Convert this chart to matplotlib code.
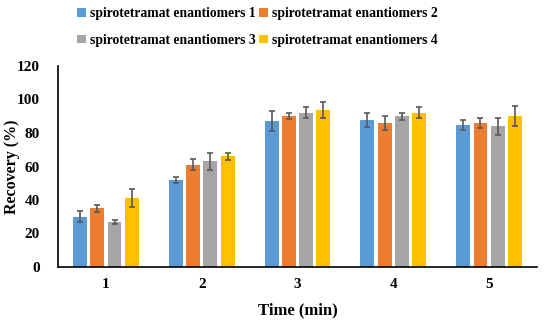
import numpy as np
import matplotlib.pyplot as plt

plt.rcParams['font.family'] = 'Liberation Serif'
plt.rcParams['font.weight'] = 'bold'

times = ['1', '2', '3', '4', '5']
series_names = ['spirotetramat enantiomers 1', 'spirotetramat enantiomers 2',
                'spirotetramat enantiomers 3', 'spirotetramat enantiomers 4']
recovery = [
    [30, 52, 87, 88, 85],
    [35, 61, 90, 86, 86],
    [27, 63, 92, 90, 84],
    [41, 66, 94, 92, 90],
]
errors = [
    [3.2, 1.9, 6.0, 4.2, 3.0],
    [2.3, 3.3, 1.8, 4.2, 3.0],
    [1.3, 5.0, 3.3, 2.0, 5.0],
    [5.3, 2.0, 4.8, 3.3, 6.0],
]
colors = ['#5B9BD5', '#ED7D31', '#A5A5A5', '#FFC000']

fig = plt.figure(figsize=(5.5, 3.21), dpi=100)
ax = fig.add_axes([58/550, 1-267/321, (537-58)/550, (267-66)/321])

x = np.arange(1, len(times) + 1)
step = 0.18
width = 0.145
bars = []
for i in range(4):
    b = ax.bar(x + (i - 1.5) * step, recovery[i], width, color=colors[i],
               yerr=errors[i], capsize=2.5,
               error_kw=dict(ecolor='#595959', elinewidth=1.2, capthick=1.2),
               label=series_names[i])
    bars.append(b)

ax.set_xlim(0.5, 5.5)
ax.set_ylim(0, 120)
ax.set_yticks(range(0, 121, 20))
ax.set_xticks(x)
ax.set_xticklabels(times)
ax.tick_params(axis='both', length=0, labelsize=11, pad=8)
ax.tick_params(axis='y', pad=13)
for s in ['top', 'right']:
    ax.spines[s].set_visible(False)
ax.spines['left'].set_linewidth(1.2)
ax.spines['bottom'].set_linewidth(1.2)
ax.set_xlabel('Time (min)', fontsize=12, fontweight='bold', labelpad=8)
ax.set_ylabel('Recovery (%)', fontsize=11.5, fontweight='bold')
ax.yaxis.set_label_coords(-38/479, 0.5)

# row-wise legend order: 1 2 / 3 4
order = [0, 2, 1, 3]
fig.legend([bars[k] for k in order], [series_names[k] for k in order],
           loc='upper center', bbox_to_anchor=(0.468, 1.015), ncol=2, frameon=False,
           fontsize=9.8, handlelength=0.6, handleheight=0.6, handletextpad=0.3,
           columnspacing=0.3, labelspacing=0.97)

fig.savefig('out.png', dpi=100)
